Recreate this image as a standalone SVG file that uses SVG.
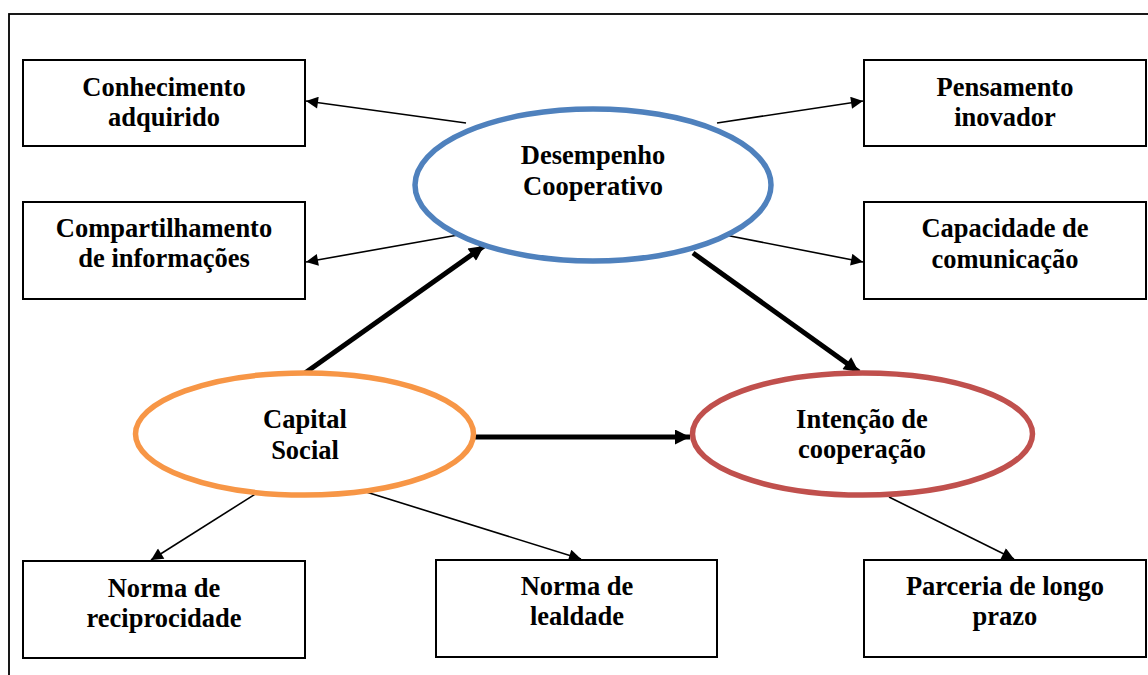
<svg xmlns="http://www.w3.org/2000/svg" width="1148" height="675" viewBox="0 0 1148 675">
<defs>
<style>
.box{fill:#fff;stroke:#000;stroke-width:2}
.t{font-family:"Liberation Serif","Times New Roman",serif;font-weight:bold;font-size:26.5px;fill:#000;text-anchor:middle}
.thin{stroke:#000;stroke-width:1.6;fill:none;marker-end:url(#ah)}
.thick{stroke:#000;stroke-width:5;fill:none;marker-end:url(#ahb)}
.ell{fill:#fff;stroke-width:5.5}
</style>
<marker id="ah" viewBox="0 0 10 10" refX="10" refY="5" markerWidth="15" markerHeight="12" markerUnits="userSpaceOnUse" orient="auto"><path d="M0,0 L10,5 L0,10 z" fill="#000"/></marker>
<marker id="ahb" viewBox="0 0 10 10" refX="10" refY="5" markerWidth="17" markerHeight="15" markerUnits="userSpaceOnUse" orient="auto"><path d="M0,0 L10,5 L0,10 z" fill="#000"/></marker>
</defs>
<rect x="0" y="0" width="1148" height="675" fill="#fff"/>
<rect x="9" y="14" width="1160" height="680" fill="none" stroke="#000" stroke-width="1.8"/>

<g id="connectors">
<line class="thin" x1="466" y1="123" x2="306" y2="101"/>
<line class="thin" x1="458" y1="235" x2="306" y2="262"/>
<line class="thin" x1="717" y1="123" x2="863" y2="101"/>
<line class="thin" x1="725" y1="235" x2="863" y2="262"/>
<line class="thin" x1="257" y1="493" x2="151" y2="560"/>
<line class="thin" x1="363" y1="491" x2="581" y2="559"/>
<line class="thin" x1="889" y1="497" x2="1014" y2="559"/>
<line class="thick" x1="305" y1="373" x2="484" y2="246"/>
<line class="thick" x1="693" y1="253" x2="859" y2="372"/>
<line class="thick" x1="475" y1="437" x2="690" y2="437"/>
</g>

<g id="desempenho">
<ellipse class="ell" cx="593" cy="185" rx="178" ry="76" stroke="#4F81BD"/>
<text class="t" x="593" y="164">Desempenho</text>
<text class="t" x="593" y="195">Cooperativo</text>
</g>
<g id="capital">
<ellipse class="ell" cx="304.5" cy="434" rx="169" ry="61" stroke="#F79646"/>
<text class="t" x="305" y="428">Capital</text>
<text class="t" x="305" y="459">Social</text>
</g>
<g id="intencao">
<ellipse class="ell" cx="862.5" cy="434" rx="170" ry="61" stroke="#C0504D"/>
<text class="t" x="862" y="428">Intenção de</text>
<text class="t" x="862" y="458">cooperação</text>
</g>

<g id="conhecimento">
<rect class="box" x="23" y="60" width="282" height="86"/>
<text class="t" x="164" y="96">Conhecimento</text>
<text class="t" x="164" y="126">adquirido</text>
</g>
<g id="compartilhamento">
<rect class="box" x="23" y="202" width="282" height="97"/>
<text class="t" x="164" y="237">Compartilhamento</text>
<text class="t" x="164" y="267">de informações</text>
</g>
<g id="pensamento">
<rect class="box" x="864" y="60" width="282" height="86"/>
<text class="t" x="1005" y="96">Pensamento</text>
<text class="t" x="1005" y="126">inovador</text>
</g>
<g id="capacidade">
<rect class="box" x="864" y="202" width="282" height="97"/>
<text class="t" x="1005" y="237">Capacidade de</text>
<text class="t" x="1005" y="268">comunicação</text>
</g>
<g id="reciprocidade">
<rect class="box" x="23" y="561" width="282" height="97"/>
<text class="t" x="164" y="597">Norma de</text>
<text class="t" x="164" y="627">reciprocidade</text>
</g>
<g id="lealdade">
<rect class="box" x="436" y="560" width="281" height="97"/>
<text class="t" x="577" y="595">Norma de</text>
<text class="t" x="577" y="625">lealdade</text>
</g>
<g id="parceria">
<rect class="box" x="864" y="560" width="282" height="97"/>
<text class="t" x="1005" y="595">Parceria de longo</text>
<text class="t" x="1005" y="625">prazo</text>
</g>
</svg>
